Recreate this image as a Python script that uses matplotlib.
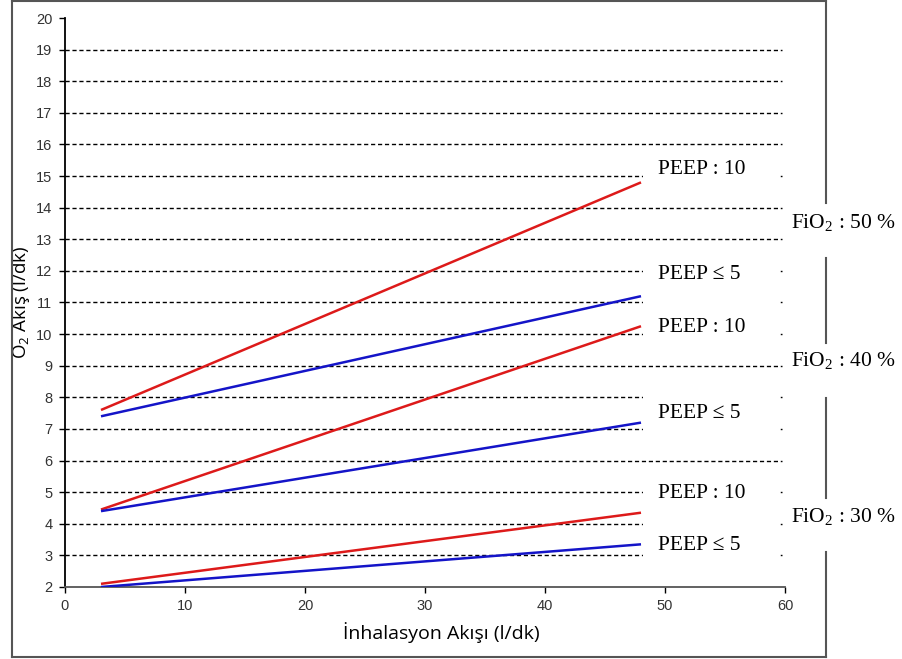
import matplotlib
matplotlib.use("Agg")
import matplotlib.pyplot as plt
from matplotlib.lines import Line2D
from matplotlib.patches import Rectangle

# data: each line runs from x=3 to x=48
X_ENDS = [3, 48]
FIO2_50_PEEP10 = [7.6, 14.8]
FIO2_50_PEEP5 = [7.4, 11.2]
FIO2_40_PEEP10 = [4.45, 10.25]
FIO2_40_PEEP5 = [4.4, 7.2]
FIO2_30_PEEP10 = [2.1, 4.35]
FIO2_30_PEEP5 = [2.0, 3.35]

PEEP_LABELS = ["PEEP : 10", "PEEP \u2264 5"] * 3
PEEP_LABEL_Y = [15.2, 11.9, 10.2, 7.5, 4.95, 3.3]
FIO2_LABELS = [r"FiO$_\mathregular{2}$ : 50 %", r"FiO$_\mathregular{2}$ : 40 %", r"FiO$_\mathregular{2}$ : 30 %"]
FIO2_LABEL_Y = [13.5, 9.15, 4.2]

X_TICKS = list(range(0, 61, 10))
Y_TICKS = list(range(2, 21))

RED = "#dd1a1a"
BLUE = "#1414c8"

# white patches behind the PEEP labels (y ranges), as in the pasted-in original
MASKS = [(14.6, 15.6), (10.8, 12.5), (9.6, 10.6), (6.7, 8.3), (2.6, 5.5)]

fig = plt.figure(figsize=(9.03, 6.59), dpi=100)
ax = fig.add_axes([65 / 903, 1 - 587 / 659, 720 / 903, 569 / 659])

for y in Y_TICKS[1:-1]:
    ax.axhline(y, xmin=0, xmax=717 / 720, color="black", lw=1.0,
               linestyle=(0, (3, 2)), zorder=1)

for y0, y1 in MASKS:
    ax.add_patch(Rectangle((48.2, y0), 11.4, y1 - y0, fc="white", ec="none", zorder=2))

series = [
    (FIO2_50_PEEP10, RED), (FIO2_50_PEEP5, BLUE),
    (FIO2_40_PEEP10, RED), (FIO2_40_PEEP5, BLUE),
    (FIO2_30_PEEP10, RED), (FIO2_30_PEEP5, BLUE),
]
for vals, color in series:
    ax.plot(X_ENDS, vals, color=color, lw=1.8, solid_capstyle="butt", zorder=3)

for label, y in zip(PEEP_LABELS, PEEP_LABEL_Y):
    ax.text(49.4, y, label, fontsize=15.5, family="Liberation Serif",
            va="center", ha="left", zorder=4)

ax.set_xlim(0, 60)
ax.set_ylim(2, 20)
ax.set_xticks(X_TICKS)
ax.set_yticks(Y_TICKS)
ax.tick_params(direction="out", length=4, width=1, labelsize=10.5,
               labelcolor="#333333", pad=5)
for lab in ax.get_xticklabels() + ax.get_yticklabels():
    lab.set_family("Liberation Sans")
ax.spines["top"].set_visible(False)
ax.spines["right"].set_visible(False)
ax.spines["left"].set_linewidth(1.3)
ax.spines["bottom"].set_color("#555555")
ax.spines["bottom"].set_linewidth(1.3)

ax.set_xlabel("İnhalasyon Akışı (l/dk)", fontsize=14, family="Open Sans")
ax.xaxis.set_label_coords(0.522, -0.062)
ax.set_ylabel(r"O$_\mathregular{2}$ Akış (l/dk)", fontsize=13.5, family="Open Sans")
ax.yaxis.set_label_coords(-0.046, 0.5)

for label, y in zip(FIO2_LABELS, FIO2_LABEL_Y):
    ax.text(60.5, y, label, fontsize=15.5, family="Liberation Serif",
            va="center", ha="left", clip_on=False, zorder=4)

# outer frame, right edge broken around the FiO2 labels
W, H = 903, 659
frame_color = "#555555"
def seg(x0, y0, x1, y1):
    fig.add_artist(Line2D([x0 / W, x1 / W], [1 - y0 / H, 1 - y1 / H],
                          color=frame_color, lw=1.5))
seg(12, 1, 826, 1)
seg(12, 1, 12, 657)
seg(12, 657, 826, 657)
for y0, y1 in [(1, 203), (258, 343), (398, 498), (552, 657)]:
    seg(826, y0, 826, y1)

fig.savefig("out.png", dpi=100)
